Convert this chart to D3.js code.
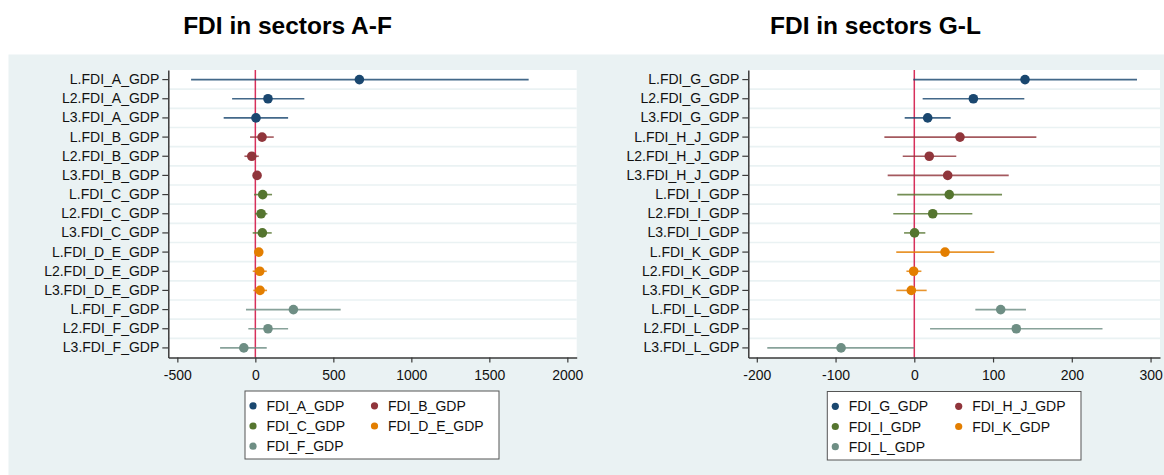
<!DOCTYPE html>
<html>
<head>
<meta charset="utf-8">
<script src="https://cdn.jsdelivr.net/npm/d3@7"></script>
<style>
    body { margin: 0; background: #fff; }
    svg { display: block; }
</style>
</head>
<body>
<div id="canvas"></div>
<script>
// DATA ========================================================================

var SERIES_AF = ["FDI_A_GDP", "FDI_B_GDP", "FDI_C_GDP", "FDI_D_E_GDP", "FDI_F_GDP"]

var LABELS_AF = [
    "L.FDI_A_GDP", "L2.FDI_A_GDP", "L3.FDI_A_GDP",
    "L.FDI_B_GDP", "L2.FDI_B_GDP", "L3.FDI_B_GDP",
    "L.FDI_C_GDP", "L2.FDI_C_GDP", "L3.FDI_C_GDP",
    "L.FDI_D_E_GDP", "L2.FDI_D_E_GDP", "L3.FDI_D_E_GDP",
    "L.FDI_F_GDP", "L2.FDI_F_GDP", "L3.FDI_F_GDP"
]

var COEF_AF = [667, 81, 4, 43, -23, 11, 47, 37, 45, 22, 28, 30, 244, 81, -74]

var LOW_AF = [-412, -149, -203, -34, -70, -10, -8, -2, -17, 5, -17, -13, -60, -45, -226]

var HIGH_AF = [1752, 314, 210, 118, 22, 30, 107, 77, 105, 40, 73, 75, 547, 210, 73]

var TICKS_AF = [-500, 0, 500, 1000, 1500, 2000]

var SERIES_GL = ["FDI_G_GDP", "FDI_H_J_GDP", "FDI_I_GDP", "FDI_K_GDP", "FDI_L_GDP"]

var LABELS_GL = [
    "L.FDI_G_GDP", "L2.FDI_G_GDP", "L3.FDI_G_GDP",
    "L.FDI_H_J_GDP", "L2.FDI_H_J_GDP", "L3.FDI_H_J_GDP",
    "L.FDI_I_GDP", "L2.FDI_I_GDP", "L3.FDI_I_GDP",
    "L.FDI_K_GDP", "L2.FDI_K_GDP", "L3.FDI_K_GDP",
    "L.FDI_L_GDP", "L2.FDI_L_GDP", "L3.FDI_L_GDP"
]

var COEF_GL = [140.6, 75, 17, 58, 19, 42.4, 44.4, 23.4, 0.3, 39, -0.8, -3.8, 109.7, 129.5, -93]

var LOW_GL = [-1.3, 10.6, -12.2, -38, -14.7, -33.8, -21.6, -26.7, -13, -22.9, -10, -22.9, 77.5, 20, -186.7]

var HIGH_GL = [282.8, 139.7, 46.2, 155, 53.3, 119.9, 111.4, 73.7, 14, 101.6, 9, 15.7, 141.8, 239, 0]

var TICKS_GL = [-200, -100, 0, 100, 200, 300]

// GLOBAL VARIABLES ============================================================

var WIDTH = 1164

var HEIGHT = 475

var FONT = "'Liberation Sans', Arial, sans-serif"

var FONT_SIZE = 14

var COLORS = ["#1a476f", "#90353b", "#55752f", "#e37e00", "#6e8e84"]

var BACKGROUND = "#eaf2f3"

var AXIS_COLOR = "#3a3a3a"

var ZERO_COLOR = "#d7305b"

var PANELS = [
    {
        "title": "FDI in sectors A-F",
        "titleX": 287.5,
        "series": SERIES_AF, "labels": LABELS_AF,
        "coef": COEF_AF, "low": LOW_AF, "high": HIGH_AF, "ticks": TICKS_AF,
        "domain": [-558, 2060],
        "left": 168.3, "right": 576.7,
        "legend": { "x": 245, "y": 391, "w": 254, "h": 68, "col2": 121.5 }
    },
    {
        "title": "FDI in sectors G-L",
        "titleX": 875.5,
        "series": SERIES_GL, "labels": LABELS_GL,
        "coef": COEF_GL, "low": LOW_GL, "high": HIGH_GL, "ticks": TICKS_GL,
        "domain": [-210.8, 312],
        "left": 748.3, "right": 1160,
        "legend": { "x": 827.3, "y": 391.5, "w": 253.7, "h": 68.5, "col2": 123.4 }
    }
]

var PLOT_TOP = 70

var PLOT_BOTTOM = 357.5

// SVG GENERATOR ===============================================================

function generate() {
    let SVG = d3.select("#canvas").append("svg")
        .attr("width", WIDTH)
        .attr("height", HEIGHT)
        .attr("font-family", FONT)

    // Graph region background.
    SVG.append("rect")
        .attr("x", 8.5)
        .attr("y", 54.5)
        .attr("width", WIDTH - 8.5)
        .attr("height", HEIGHT - 54.5)
        .attr("fill", BACKGROUND)

    PANELS.forEach(P => panel(SVG, P))
}

function panel(SVG, P) {
    let g = SVG.append("g")

    // Rows in panel order, one per lagged coefficient.
    let rows = P.labels.map((d, i) => ({
        "label": d,
        "coef": P.coef[i],
        "low": P.low[i],
        "high": P.high[i],
        "group": Math.floor(i/3)
    }))

    let x = d3.scaleLinear().domain(P.domain).range([P.left, P.right])
    let y = d3.scaleBand().domain(P.labels).range([PLOT_TOP, PLOT_BOTTOM])
    let bw = y.bandwidth()

    // Title.
    SVG.append("text")
        .text(P.title)
        .attr("x", P.titleX)
        .attr("y", 34)
        .attr("text-anchor", "middle")
        .attr("font-size", "24.5px")
        .attr("font-weight", "bold")
        .attr("fill", "#000")

    // Plot region and grid lines between rows.
    g.append("rect")
        .attr("x", P.left)
        .attr("y", PLOT_TOP)
        .attr("width", P.right - P.left)
        .attr("height", PLOT_BOTTOM - PLOT_TOP)
        .attr("fill", "#fff")

    g.selectAll(".grid")
        .data(P.labels.slice(1)).enter()
        .append("line")
            .attr("x1", P.left)
            .attr("x2", P.right)
            .attr("y1", d => y(d))
            .attr("y2", d => y(d))
            .attr("stroke", BACKGROUND)
            .attr("stroke-width", 1.6)

    // Reference line at zero.
    g.append("line")
        .attr("x1", x(0))
        .attr("x2", x(0))
        .attr("y1", PLOT_TOP)
        .attr("y2", PLOT_BOTTOM)
        .attr("stroke", ZERO_COLOR)
        .attr("stroke-width", 1.5)

    // Confidence intervals and point estimates.
    g.selectAll(".ci")
        .data(rows).enter()
        .append("line")
            .attr("x1", d => x(d.low))
            .attr("x2", d => x(d.high))
            .attr("y1", d => y(d.label) + bw/2)
            .attr("y2", d => y(d.label) + bw/2)
            .attr("stroke", d => COLORS[d.group])
            .attr("stroke-opacity", 0.82)
            .attr("stroke-width", 1.6)

    g.selectAll(".pt")
        .data(rows).enter()
        .append("circle")
            .attr("cx", d => x(d.coef))
            .attr("cy", d => y(d.label) + bw/2)
            .attr("r", 4.8)
            .attr("fill", d => COLORS[d.group])

    // Axes (plain hyphen for negatives, as in the original).
    let xaxis = g.append("g")
        .attr("transform", translate(0, PLOT_BOTTOM))
        .call(d3.axisBottom(x).tickValues(P.ticks).tickFormat(d => String(d)).tickSize(5).tickSizeOuter(0).tickPadding(8))

    let yaxis = g.append("g")
        .attr("transform", translate(P.left, 0))
        .call(d3.axisLeft(y).tickSize(6).tickSizeOuter(0).tickPadding(3))

    ;[xaxis, yaxis].forEach(a => {
        a.select(".domain").attr("stroke", AXIS_COLOR).attr("stroke-width", 1.5)
        a.selectAll(".tick line").attr("stroke", AXIS_COLOR).attr("stroke-width", 1.2)
        a.selectAll("text")
            .attr("font-family", FONT)
            .attr("font-size", FONT_SIZE + "px")
            .attr("fill", "#111")
    })

    legend(SVG, P)
}

function legend(SVG, P) {
    let L = P.legend
    let g = SVG.append("g").attr("transform", translate(L.x, L.y))

    g.append("rect")
        .attr("width", L.w)
        .attr("height", L.h)
        .attr("fill", "#fff")
        .attr("stroke", "#555")
        .attr("stroke-width", 1)

    let items = g.selectAll(".key")
        .data(P.series).enter()
        .append("g")
            .attr("transform", (d, i) => translate(8 + (i % 2)*L.col2, 14.8 + Math.floor(i/2)*20.2))

    items.append("circle")
        .attr("r", 3.6)
        .attr("fill", (d, i) => COLORS[i])

    items.append("text")
        .text(d => d)
        .attr("x", 13.5)
        .attr("y", 5)
        .attr("font-size", FONT_SIZE + "px")
        .attr("fill", "#111")
}

// -----------------------------------------------------------------------------

function translate(x, y) {
    return "translate(" + x + "," + y + ")"
}

generate()
</script>
</body>
</html>
